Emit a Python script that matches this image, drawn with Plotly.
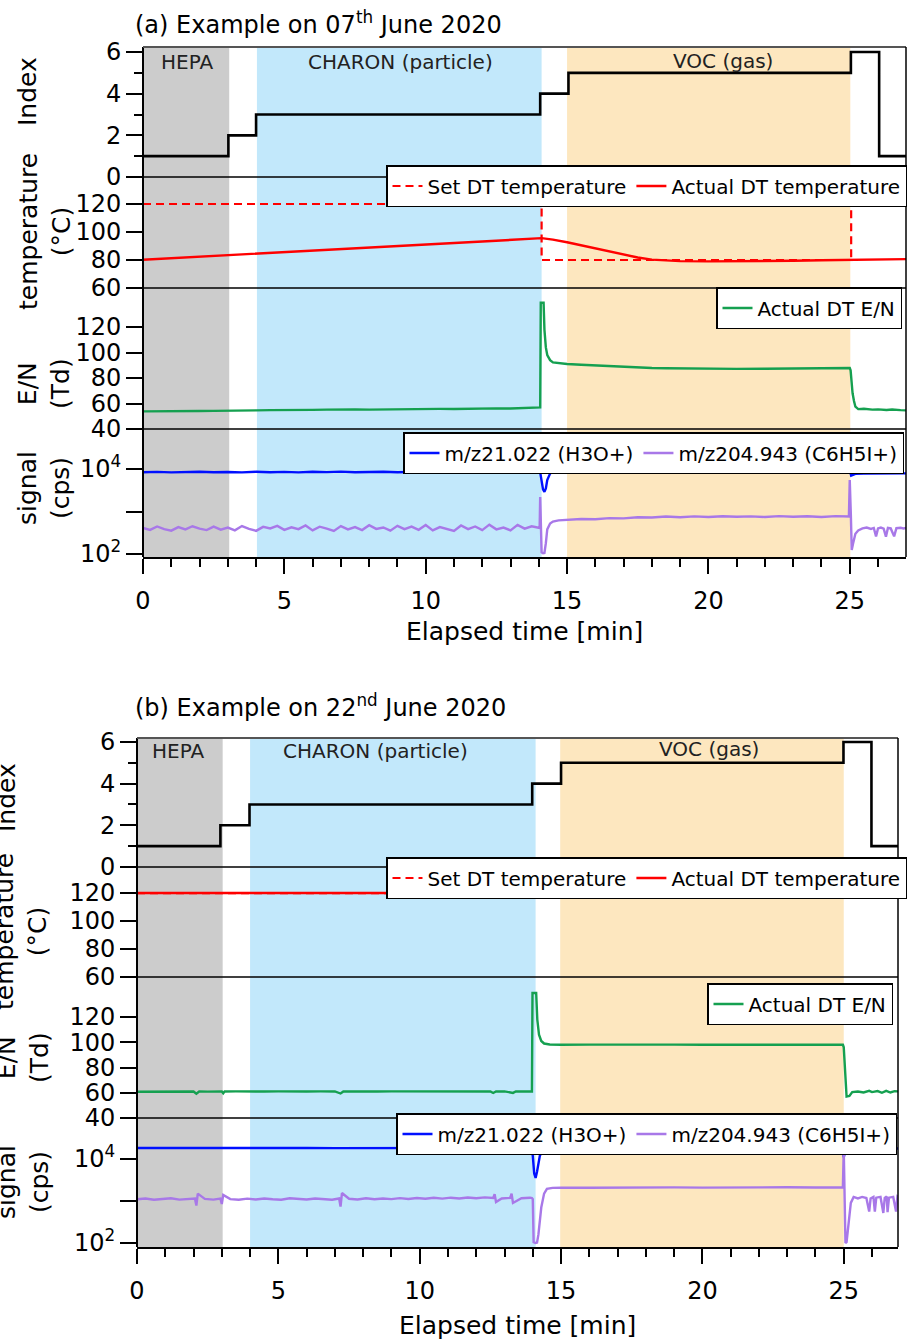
import plotly.graph_objects as go

FONT = "DejaVu Sans"
W, H = 907, 1339

# ---------------- data: panel (a) 07 June 2020 ----------------
IDX_A_X = [0, 3.02, 4.0, 14.05, 15.05, 25.04, 26.04, 27]
IDX_A_Y = [1, 2, 3, 4, 5, 6, 1, 1]

SET_T_A_X = [0, 14.1, 25.05, 27]
SET_T_A_Y = [120, 80, 120, 120]

ACT_T_A_X = [0, 2, 4, 6, 8, 10, 12, 14.1, 14.5, 15, 15.5, 16, 16.5, 17, 17.5, 18, 18.5, 19, 20, 21, 22, 23, 24, 25, 26, 27]
ACT_T_A_Y = [80.2, 82.3, 84.5, 86.7, 88.9, 91.0, 93.2, 95.6, 94.6, 92.7, 90.6, 88.4, 86.2, 84.0, 81.8, 80.3, 79.6, 79.2, 79.0, 79.0, 79.2, 79.5, 79.8, 80.2, 80.4, 80.6]

EN_A_X = [0, 0.5, 1, 1.5, 2, 2.5, 3, 3.5, 4, 4.5, 5, 5.5, 6, 6.5, 7, 7.5, 8, 8.5, 9, 9.5, 10, 10.5, 11, 11.5, 12, 12.5, 13, 13.5, 14.0,
          14.05, 14.07, 14.17, 14.2, 14.25, 14.3, 14.4, 14.5, 14.7, 15, 15.5, 16, 16.5, 17, 17.5, 18, 18.5, 19, 19.5, 20, 21, 22, 23, 24, 25.0,
          25.03, 25.06, 25.1, 25.15, 25.2, 25.3, 25.5, 25.8, 26, 26.3, 26.5, 26.8, 27]
EN_A_Y = [53.8, 54.0, 53.9, 54.3, 54.1, 54.2, 54.5, 54.3, 54.6, 54.8, 54.7, 54.9, 55.0, 55.2, 55.0, 55.3, 55.2, 55.4, 55.6, 55.3, 55.6, 55.8, 55.7, 56.0, 56.0, 56.2, 56.1, 56.4, 56.5,
          57.0, 139, 139, 118, 104, 98, 94, 92.2, 91.6, 91.0, 90.4, 89.8, 89.2, 88.7, 88.2, 87.8, 87.6, 87.4, 87.3, 87.2, 87.2, 87.3, 87.4, 87.6, 87.8,
          86.0, 76, 68, 62, 57.5, 55.6, 55.9, 55.2, 55.4, 54.9, 55.3, 54.8, 54.6]

H3O_A_X = [0, 0.5, 1, 1.5, 2, 2.5, 3, 3.5, 4, 4.5, 5, 5.5, 6, 6.5, 7, 7.5, 8, 8.5, 9, 9.5, 10, 10.5, 11, 11.5, 12, 12.5, 13, 13.5, 14.0,
           14.05, 14.1, 14.15, 14.2, 14.25, 14.3, 14.4, 14.5, 14.7, 15, 16, 17, 18, 19, 20, 21, 22, 23, 24, 25.0,
           25.05, 25.1, 25.2, 25.5, 26, 26.5, 27]
H3O_A_Y = [8400, 8550, 8300, 8500, 8600, 8350, 8500, 8300, 8600, 8400, 8550, 8320, 8600, 8420, 8650, 8380, 8500, 8620, 8400, 8550, 8650, 8420, 8560, 8680, 8440, 8650, 8460, 8600, 8500,
           8300, 5200, 3300, 2900, 3500, 5500, 7800, 8600, 8800, 8850, 8950, 9050, 9100, 9150, 9200, 9200, 9250, 9300, 9350, 9400,
           7000, 7300, 7700, 7850, 7900, 7880, 7900]

C6_A_X = [0, 0.25, 0.5, 0.75, 1.0, 1.25, 1.5, 1.75, 2.0, 2.25, 2.5, 2.75, 3.0, 3.25, 3.5, 3.75, 4.0, 4.25, 4.5, 4.75,
          5.0, 5.25, 5.5, 5.75, 6.0, 6.25, 6.5, 6.75, 7.0, 7.25, 7.5, 7.75, 8.0, 8.25, 8.5, 8.75, 9.0, 9.25, 9.5, 9.75,
          10.0, 10.25, 10.5, 10.75, 11.0, 11.25, 11.5, 11.75, 12.0, 12.25, 12.5, 12.75, 13.0, 13.25, 13.5, 13.75, 14.0,
          14.03, 14.05, 14.08, 14.1, 14.15, 14.2, 14.25, 14.3, 14.4, 14.5, 14.7, 15.0, 15.5, 16, 16.5, 17, 17.5, 18, 18.5,
          19, 19.5, 20, 20.5, 21, 21.5, 22, 22.5, 23, 23.5, 24, 24.5, 24.97, 25.0, 25.04, 25.07, 25.12, 25.2, 25.3, 25.45,
          25.6, 25.75, 25.85, 25.93, 26.0, 26.1, 26.2, 26.28, 26.35, 26.45, 26.57, 26.65, 26.8, 26.9, 27]
C6_A_Y = [410, 370, 445, 385, 355, 430, 380, 450, 395, 365, 440, 375, 420, 360, 455, 390, 350, 435, 400, 460,
          370, 425, 385, 470, 360, 440, 395, 350, 455, 380, 430, 365, 475, 390, 420, 355, 460, 385, 440, 370,
          480, 360, 430, 395, 350, 470, 385, 445, 365, 490, 380, 420, 360, 485, 395, 450, 410,
          410, 2200, 400, 110, 104, 106, 180, 380, 520, 580, 620, 640, 665, 655, 700, 690, 735, 725, 760,
          735, 770, 745, 775, 750, 770, 740, 780, 755, 775, 745, 780, 760, 5500, 800, 124, 180, 300, 360, 400,
          420, 390, 410, 260, 400, 420, 395, 255, 410, 400, 260, 405, 415, 400, 410]

# ---------------- data: panel (b) 22 June 2020 ----------------
IDX_B_X = [0, 2.95, 3.98, 13.98, 15.0, 24.99, 25.98, 27]
IDX_B_Y = [1, 2, 3, 4, 5, 6, 1, 1]

SET_T_B_X = [0, 27]
SET_T_B_Y = [120, 120]
ACT_T_B_X = [0, 27]
ACT_T_B_Y = [120, 120]

EN_B_X = [0, 0.5, 1, 1.5, 2.0, 2.1, 2.2, 2.5, 3.0, 3.05, 3.1, 3.5, 4, 4.5, 5, 5.5, 6, 6.5, 7.0, 7.2, 7.3, 7.5, 8, 8.5, 9, 9.5,
          10, 10.5, 11, 11.5, 12, 12.5, 12.6, 12.7, 13, 13.3, 13.4, 13.7, 13.97,
          13.99, 14.12, 14.16, 14.22, 14.3, 14.4, 14.6, 15, 16, 17, 18, 19, 20, 21, 22, 23, 24, 24.97,
          25.0, 25.03, 25.06, 25.1, 25.2, 25.3, 25.5, 25.7, 25.9, 26.0, 26.2, 26.35, 26.5, 26.65, 26.8, 27]
EN_B_Y = [60.8, 61.0, 60.9, 61.1, 61.0, 59.3, 61.0, 60.9, 61.0, 59.6, 61.0, 61.1, 60.9, 61.0, 61.1, 60.9, 61.0, 61.1, 61.0, 59.4, 61.0, 61.1, 60.9, 61.0, 61.1, 61.0,
          60.9, 61.1, 61.0, 61.1, 60.9, 61.0, 59.8, 61.0, 61.1, 59.9, 61.0, 60.9, 61.0,
          139, 139, 118, 106, 101, 99, 98.2, 98.0, 98.1, 97.9, 98.0, 98.1, 98.0, 97.9, 98.0, 98.1, 98.0, 98.0,
          96, 84, 70, 57, 57.5, 60.5, 61.0, 60.2, 61.5, 60.5, 61.3, 60.0, 61.5, 60.2, 61.3, 61.0]

H3O_B_X = [0, 1, 2, 3, 4, 5, 6, 7, 8, 9, 10, 11, 12, 13, 13.95, 14.0, 14.05, 14.1, 14.15, 14.25, 14.4, 15, 20, 24.95,
           25.0, 25.05, 25.2, 26, 27]
H3O_B_Y = [18200, 18300, 18100, 18250, 18150, 18300, 18200, 18100, 18250, 18300, 18150, 18200, 18250, 18100, 18200, 12000, 4500, 3550, 5000, 12000, 17500, 18500, 18800, 19000,
           11000, 15000, 17500, 17800, 17800]

C6_B_X = [0, 0.3, 0.6, 0.9, 1.2, 1.5, 1.8, 2.05, 2.1, 2.15, 2.4, 2.7, 2.95, 3.0, 3.05, 3.3, 3.6, 3.9, 4.2, 4.5, 4.8, 5.1, 5.4, 5.7,
          6.0, 6.3, 6.6, 6.9, 7.15, 7.2, 7.25, 7.5, 7.8, 8.1, 8.4, 8.7, 9.0, 9.3, 9.6, 9.9, 10.2, 10.5, 10.8, 11.1, 11.4, 11.7,
          12.0, 12.3, 12.6, 12.65, 12.7, 12.9, 13.2, 13.25, 13.3, 13.6, 13.9, 13.97,
          14.0, 14.03, 14.1, 14.15, 14.2, 14.3, 14.4, 14.5, 14.7, 15, 16, 17, 18, 19, 20, 21, 22, 23, 24, 24.97,
          25.0, 25.03, 25.06, 25.1, 25.15, 25.25, 25.35, 25.5, 25.65, 25.8, 25.9, 25.95, 26.05, 26.1, 26.15, 26.3, 26.4, 26.45,
          26.52, 26.55, 26.6, 26.75, 26.85, 26.9, 27]
C6_B_Y = [1100, 1150, 1070, 1130, 1160, 1080, 1120, 1150, 780, 1500, 1120, 1080, 1140, 850, 1400, 1110, 1070, 1140, 1090, 1150, 1100, 1070, 1160, 1110,
          1090, 1150, 1100, 1070, 1150, 740, 1550, 1130, 1090, 1160, 1100, 1150, 1110, 1170, 1120, 1180, 1130, 1190, 1140, 1200, 1150, 1210,
          1160, 1220, 1180, 1450, 950, 1150, 1190, 1500, 900, 1160, 1200, 1170,
          1100, 105, 100, 102, 160, 700, 1500, 1950, 2050, 2080, 2060, 2100, 2070, 2110, 2080, 2110, 2090, 2120, 2100, 2110,
          17000, 2000, 100, 105, 250, 900, 1250, 1150, 1250, 1180, 560, 1150, 1250, 560, 1200, 1250, 520, 1180,
          1280, 540, 1200, 1250, 560, 1300, 1200]

# shaded periods [start, end] in minutes
HEPA_A = [0, 3.05]
CHARON_A = [4.03, 14.1]
VOC_A = [15.0, 25.02]
HEPA_B = [0, 3.03]
CHARON_B = [4.0, 14.1]
VOC_B = [14.97, 25.0]

RED = "#FF0000"
GREEN = "#15A050"
BLUE = "#0010FF"
PURPLE = "#A878E8"


def px(x):
    return x / W


def py(y):
    return 1 - y / H


fig = go.Figure()


def add_panel(sfx_x, ys, idx, sett, actt, en, h3o, c6, lg):
    xa = sfx_x
    fig.add_trace(go.Scatter(x=idx[0], y=idx[1], xaxis=xa, yaxis=ys[0], mode="lines", line_shape="hv",
                             line=dict(color="black", width=2.6), showlegend=False, hoverinfo="skip"))
    fig.add_trace(go.Scatter(x=sett[0], y=sett[1], xaxis=xa, yaxis=ys[1], mode="lines", line_shape="hv",
                             line=dict(color=RED, width=2.2, dash="8px,5px"), name="Set DT temperature", legend=lg[0]))
    fig.add_trace(go.Scatter(x=actt[0], y=actt[1], xaxis=xa, yaxis=ys[1], mode="lines",
                             line=dict(color=RED, width=2.4), name="Actual DT temperature", legend=lg[0]))
    fig.add_trace(go.Scatter(x=en[0], y=en[1], xaxis=xa, yaxis=ys[2], mode="lines",
                             line=dict(color=GREEN, width=2.4), name="Actual DT E/N", legend=lg[1]))
    fig.add_trace(go.Scatter(x=h3o[0], y=h3o[1], xaxis=xa, yaxis=ys[3], mode="lines",
                             line=dict(color=BLUE, width=2.4), name="m/z21.022 (H3O+)", legend=lg[2]))
    fig.add_trace(go.Scatter(x=c6[0], y=c6[1], xaxis=xa, yaxis=ys[3], mode="lines",
                             line=dict(color=PURPLE, width=2.4), name="m/z204.943 (C6H5I+)", legend=lg[2]))


add_panel("x", ["y", "y2", "y3", "y4"], (IDX_A_X, IDX_A_Y), (SET_T_A_X, SET_T_A_Y), (ACT_T_A_X, ACT_T_A_Y),
          (EN_A_X, EN_A_Y), (H3O_A_X, H3O_A_Y), (C6_A_X, C6_A_Y), ["legend", "legend2", "legend3"])
add_panel("x2", ["y5", "y6", "y7", "y8"], (IDX_B_X, IDX_B_Y), (SET_T_B_X, SET_T_B_Y), (ACT_T_B_X, ACT_T_B_Y),
          (EN_B_X, EN_B_Y), (H3O_B_X, H3O_B_Y), (C6_B_X, C6_B_Y), ["legend4", "legend5", "legend6"])

TICKFONT = dict(family=FONT, size=24, color="black")


def yax(top, bot, rng, anchor, xleft, **kw):
    d = dict(domain=[py(bot), py(top)], range=rng, anchor="free", position=px(xleft), showline=True,
             linecolor="black", linewidth=2, ticks="outside", ticklen=16, tickwidth=2, tickcolor="black",
             showgrid=False, zeroline=False, tickfont=TICKFONT, automargin=False, fixedrange=True)
    d.update(kw)
    return d


IDX_TICKS = [0, 2, 4, 6]
T_TICKS = [60, 80, 100, 120]
EN_TICKS = [40, 60, 80, 100, 120]
SIG_TICKS = [100, 1000, 10000]
SIG_TEXT = ["10<sup>2</sup>", "", "10<sup>4</sup>"]
X_TICKS = [0, 5, 10, 15, 20, 25]

minor_idx = dict(tickvals=[1, 3, 5], ticklen=8, tickwidth=2, tickcolor="black", ticks="outside")


def xax(left, right, bottom_axis):
    return dict(domain=[px(left), px(right)], range=[0, (right - left) / 28.27], anchor=bottom_axis,
                showline=True, linecolor="black", linewidth=2, ticks="outside", ticklen=15, tickwidth=2,
                tickcolor="black", tickvals=X_TICKS, tickfont=dict(family=FONT, size=24, color="black"),
                minor=dict(dtick=1, tick0=0, ticklen=8, tickwidth=2, tickcolor="black", ticks="outside"),
                showgrid=False, zeroline=False, automargin=False, fixedrange=True, ticklabelstandoff=6)


layout = dict(
    width=W, height=H, margin=dict(l=0, r=0, t=0, b=0),
    paper_bgcolor="white", plot_bgcolor="rgba(0,0,0,0)",
    font=dict(family=FONT, color="black"),
    xaxis=xax(143, 906, "y4"),
    xaxis2=xax(137, 898, "y8"),
    yaxis=yax(47, 177, [0, 6.24], "x", 143, tickvals=IDX_TICKS, minor=minor_idx),
    yaxis2=yax(177, 288, [60, 139.3], "x", 143, tickvals=T_TICKS),
    yaxis3=yax(288, 429, [40, 150.6], "x", 143, tickvals=EN_TICKS),
    yaxis4=yax(429, 557, [1.93, 4.94], "x", 143, type="log", tickvals=SIG_TICKS, ticktext=SIG_TEXT),
    yaxis5=yax(738, 867, [0, 6.19], "x2", 137, tickvals=IDX_TICKS, minor=minor_idx),
    yaxis6=yax(867, 977, [60, 138.6], "x2", 137, tickvals=T_TICKS),
    yaxis7=yax(977, 1118, [40, 151.7], "x2", 137, tickvals=EN_TICKS),
    yaxis8=yax(1118, 1247, [1.905, 4.976], "x2", 137, type="log", tickvals=SIG_TICKS, ticktext=SIG_TEXT),
    showlegend=True,
)


def leg(right, top):
    return dict(x=px(right), y=py(top), xanchor="right", yanchor="top", orientation="h",
                bgcolor="white", bordercolor="black", borderwidth=1.5,
                font=dict(family=FONT, size=20, color="black"), itemwidth=30, tracegroupgap=0)


layout["legend"] = leg(907, 165)
layout["legend2"] = leg(902, 287)
layout["legend3"] = leg(904, 432)
layout["legend4"] = leg(907, 857)
layout["legend5"] = leg(893, 983)
layout["legend6"] = leg(897, 1113)

shapes = []


def panel_shapes(xref, top, seps, bottom, right_px, left_px, periods):
    cols = ["#CCCCCC", "#C2E8FB", "#FDE7BF"]
    for (a, b), c in zip(periods, cols):
        shapes.append(dict(type="rect", xref=xref, yref="paper", x0=a, x1=b, y0=py(bottom), y1=py(top),
                           fillcolor=c, line=dict(width=0), layer="below"))
    for s in seps:
        shapes.append(dict(type="line", xref="paper", yref="paper", x0=px(left_px), x1=px(right_px),
                           y0=py(s), y1=py(s), line=dict(color="black", width=1.5), layer="below"))
    shapes.append(dict(type="line", xref="paper", yref="paper", x0=px(left_px), x1=px(right_px),
                       y0=py(top), y1=py(top), line=dict(color="#555555", width=2), layer="above"))
    shapes.append(dict(type="line", xref="paper", yref="paper", x0=px(right_px), x1=px(right_px),
                       y0=py(bottom), y1=py(top), line=dict(color="black", width=1.5), layer="above"))


panel_shapes("x", 47, [177, 288, 429], 557, 906, 143, [HEPA_A, CHARON_A, VOC_A])
panel_shapes("x2", 738, [867, 977, 1118], 1247, 898, 137, [HEPA_B, CHARON_B, VOC_B])
layout["shapes"] = shapes

ann = []


def text(x, y, s, size=24, xanchor="center", angle=0, color="black"):
    ann.append(dict(x=px(x), y=py(y), xref="paper", yref="paper", text=s, showarrow=False,
                    xanchor=xanchor, yanchor="middle", textangle=angle,
                    font=dict(family=FONT, size=size, color=color)))


text(133, 23, "(a) Example on 07<sup>th</sup> June 2020", 24, "left")
text(133, 706, "(b) Example on 22<sup>nd</sup> June 2020", 24, "left")

text(187, 62, "HEPA", 20, color="#222222")
text(400, 62, "CHARON (particle)", 20, color="#222222")
text(723, 61, "VOC (gas)", 20, color="#222222")
text(178, 751, "HEPA", 20, color="#222222")
text(375, 751, "CHARON (particle)", 20, color="#222222")
text(709, 749, "VOC (gas)", 20, color="#222222")

text(524, 632, "Elapsed time [min]", 25)
text(517, 1325, "Elapsed time [min]", 25)

# y titles panel (a)
text(28, 92, "Index", 25, angle=-90)
text(45, 232, "temperature<br>(°C)", 25, angle=-90)
text(44, 384, "E/N<br>(Td)", 25, angle=-90)
text(44, 488, "signal<br>(cps)", 25, angle=-90)
# y titles panel (b) (partly cut at the left edge, as in the original figure)
text(6, 798, "Index", 25, angle=-90)
text(21, 932, "temperature<br>(°C)", 25, angle=-90)
text(23, 1058, "E/N<br>(Td)", 25, angle=-90)
text(23, 1182, "signal<br>(cps)", 25, angle=-90)

layout["annotations"] = ann
fig.update_layout(**layout)
fig.write_html("out.html", config={"displayModeBar": False},
               post_script="document.body.style.margin='0';document.body.style.padding='0';")
